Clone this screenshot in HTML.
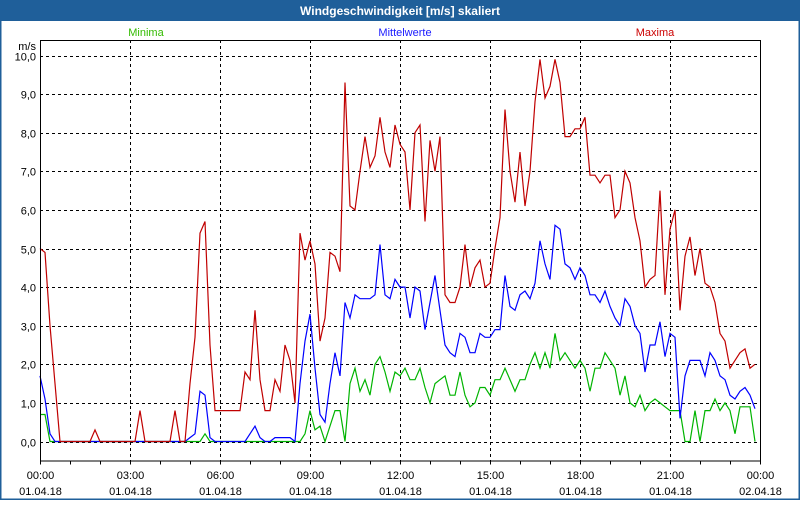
<!DOCTYPE html>
<html><head><meta charset="utf-8"><style>
html,body{margin:0;padding:0;background:#fff;}
body{width:800px;height:500px;overflow:hidden;font-family:"Liberation Sans","DejaVu Sans",sans-serif;}
svg text{font-family:"Liberation Sans","DejaVu Sans",sans-serif;font-size:11px;}
</style></head><body>
<svg id="chart" width="800" height="500" viewBox="0 0 800 500" xmlns="http://www.w3.org/2000/svg">
<rect x="0.5" y="0.5" width="799" height="499" fill="#fff" stroke="#1f5f9a" stroke-width="2"/>
<rect x="0" y="0" width="800" height="21" fill="#1f5f9a"/>
<text x="400" y="15" text-anchor="middle" fill="#fff" font-weight="bold" style="font-size:12px">Windgeschwindigkeit [m/s] skaliert</text>
<text x="146" y="36" text-anchor="middle" fill="#33bb00">Minima</text>
<text x="405" y="36" text-anchor="middle" fill="#1a1aff">Mittelwerte</text>
<text x="655" y="36" text-anchor="middle" fill="#cc0000">Maxima</text>
<text x="36" y="50" text-anchor="end" fill="#000">m/s</text>
<g id="grid"></g><g id="series"></g><g id="axes"></g>
</svg>
<script>
const yTicks=[0,1,2,3,4,5,6,7,8,9,10];
const xHours=[0,3,6,9,12,15,18,21,24];
const xTimeLabels=["00:00","03:00","06:00","09:00","12:00","15:00","18:00","21:00","00:00"];
const xDateLabels=["01.04.18","01.04.18","01.04.18","01.04.18","01.04.18","01.04.18","01.04.18","01.04.18","02.04.18"];
const stepMinutes=10;
const maxima=[5.0,4.9,3.0,1.5,0,0,0,0,0,0,0,0.3,0,0,0,0,0,0,0,0,0.8,0,0,0,0,0,0,0.8,0,0,1.5,2.7,5.4,5.7,2.5,0.8,0.8,0.8,0.8,0.8,0.8,1.8,1.6,3.4,1.6,0.8,0.8,1.6,1.3,2.5,2.1,1.0,5.4,4.7,5.2,4.6,2.6,3.2,4.9,4.8,4.4,9.3,6.1,6.0,7.0,7.9,7.1,7.4,8.4,7.5,7.1,8.2,7.7,
7.5,6.0,8.0,8.2,5.7,7.8,7.0,7.9,3.8,3.6,3.6,4.0,5.1,4.0,4.5,4.7,4.0,4.1,5.0,5.8,8.6,7.0,6.2,7.5,6.1,7.0,8.8,9.9,8.9,9.2,9.9,9.3,7.9,7.9,8.1,8.1,8.4,6.9,6.9,6.7,6.9,6.9,5.8,6.0,7.0,6.7,5.8,5.2,4.0,4.2,4.3,6.5,3.8,5.5,6.0,3.4,4.8,5.3,4.3,5.0,4.1,4.0,3.6,2.8,2.6,1.9,2.1,2.3,2.4,1.9,2.0];
const mittelwerte=[1.7,1.1,0.2,0,0,0,0,0,0,0,0,0,0,0,0,0,0,0,0,0,0,0,0,0,0,0,0,0,0,0,0.1,0.2,1.3,1.2,0.1,0,0,0,0,0,0,0,0.2,0.4,0.1,0,0,0.1,0.1,0.1,0.1,0,1.5,2.6,3.3,1.9,0.7,0.5,1.5,2.3,1.7,3.6,3.2,3.8,3.7,3.7,3.7,3.8,5.1,3.8,3.7,4.2,4.0,
4.0,3.2,4.0,3.9,2.9,3.6,4.3,3.4,2.5,2.3,2.2,2.8,2.7,2.3,2.3,2.8,2.7,2.7,2.9,2.9,4.3,3.5,3.4,3.8,3.9,3.7,4.1,5.2,4.6,4.2,5.6,5.5,4.6,4.5,4.2,4.5,4.3,3.8,3.8,3.6,3.9,3.5,3.2,3.0,3.7,3.5,3.0,2.8,1.8,2.5,2.5,3.1,2.2,2.8,2.7,0.6,1.7,2.1,2.1,2.1,1.7,2.3,2.1,1.7,1.6,1.2,1.1,1.3,1.4,1.2,0.85];
const minima=[0.7,0.7,0,0,0,0,0,0,0,0,0,0,0,0,0,0,0,0,0,0,0,0,0,0,0,0,0,0,0,0,0,0,0,0.2,0,0,0,0,0,0,0,0,0,0,0,0,0,0,0,0,0,0,0,0.2,0.8,0.3,0.4,0,0.4,0.8,0.8,0,1.5,1.9,1.3,1.6,1.2,2.0,2.2,1.8,1.3,1.8,1.7,
1.9,1.6,1.6,1.9,1.4,1.0,1.5,1.6,1.7,1.2,1.2,1.8,1.2,0.9,1.0,1.4,1.4,1.2,1.6,1.6,1.9,1.6,1.3,1.6,1.6,2.0,2.3,1.9,2.3,1.9,2.8,2.1,2.3,2.1,1.9,2.1,1.9,1.3,1.9,1.9,2.3,2.1,1.9,1.2,1.7,1.0,0.9,1.2,0.8,1.0,1.1,1.0,0.9,0.8,0.8,0.8,0,0,0.8,0,0.8,0.8,1.1,0.8,1.0,0.8,0.2,0.9,0.9,0.9,0];

const NS="http://www.w3.org/2000/svg";
const X0=40,X1=760,Y0=441.5,PXU=38.6,TOP=40,BOT=460.5;
function xScale(h){return X0+(X1-X0)*h/24;}
function yScale(v){return Y0-v*PXU;}
function mk(tag,attrs,parent){const e=document.createElementNS(NS,tag);for(const k in attrs)e.setAttribute(k,attrs[k]);parent.appendChild(e);return e;}
const grid=document.getElementById('grid'),axes=document.getElementById('axes'),series=document.getElementById('series');
yTicks.forEach(v=>{
  const y=Math.round(yScale(v))+0.5;
  const l=mk('line',{x1:X0,x2:X1,y1:y,y2:y,stroke:'#000','stroke-dasharray':'3,3','stroke-width':1},grid);
  
  
  const t=mk('text',{x:36,y:y+4,'text-anchor':'end',fill:'#000'},axes);
  t.textContent=v.toFixed(1).replace('.',',');
  
  
});
xHours.forEach((h,i)=>{
  const x=Math.round(xScale(h))+0.5;
  if(h>0&&h<24){
    const l=mk('line',{x1:x,x2:x,y1:TOP,y2:BOT,stroke:'#000','stroke-dasharray':'3,3'},grid);
    
    
  }
  const t1=mk('text',{x:x,y:479,'text-anchor':'middle',fill:'#000'},axes);
  t1.textContent=xTimeLabels[i];
  
  
  const t2=mk('text',{x:x,y:495,'text-anchor':'middle',fill:'#000'},axes);
  t2.textContent=xDateLabels[i];
  
  
});
for(let h=0;h<=24;h++){
  const x=Math.round(xScale(h))+0.5;
  const tk=mk('line',{x1:x,x2:x,y1:BOT,y2:BOT+4,stroke:'#000'},axes);
  
  
}
const box=mk('rect',{x:X0+0.5,y:TOP+0.5,width:X1-X0,height:BOT-TOP,fill:'none',stroke:'#000'},axes);


function drawSeries(arr,color,name){
  const pts=arr.map((v,i)=>xScale(i*stepMinutes/60).toFixed(1)+','+yScale(v).toFixed(1)).join(' ');
  const p=mk('polyline',{points:pts,fill:'none',stroke:color,'stroke-width':1.2,'stroke-linejoin':'miter'},series);
  
  
}
drawSeries(minima,'#00b400','minima-line');
drawSeries(mittelwerte,'#0000ff','mittelwerte-line');
drawSeries(maxima,'#c00000','maxima-line');
</script>
</body></html>
